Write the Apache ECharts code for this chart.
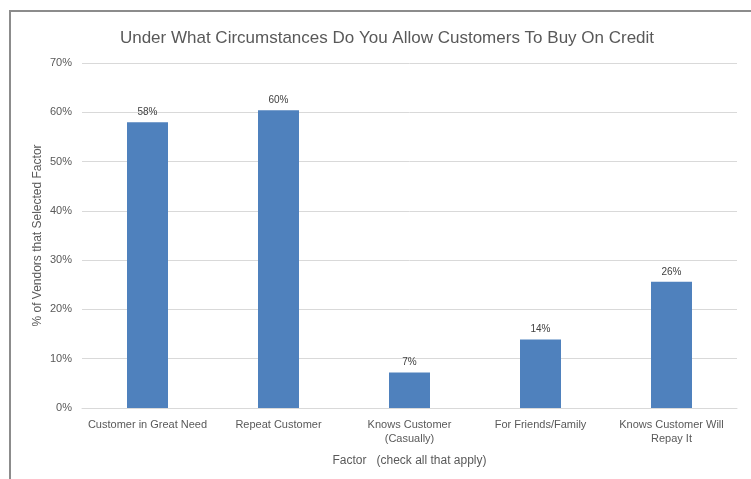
<!DOCTYPE html>
<html>
<head>
<meta charset="utf-8">
<script src="https://cdn.jsdelivr.net/npm/echarts@6/dist/echarts.min.js"></script>
<style>
  html, body { margin: 0; padding: 0; background: #fff; }
  #chart { width: 751px; height: 479px; }
</style>
</head>
<body>
<div id="chart"></div>
<script>
let categories = [
    'Customer in Great Need',
    'Repeat Customer',
    'Knows Customer\n(Casually)',
    'For Friends/Family',
    'Knows Customer Will\nRepay It'
];
let shares = [0.58, 0.604, 0.072, 0.139, 0.256];
let yTicks = [0, 0.1, 0.2, 0.3, 0.4, 0.5, 0.6, 0.7];

let font = 'Liberation Sans';
let chart = echarts.init(document.getElementById('chart'));
let option = {
    backgroundColor: '#fff',
    textStyle: { fontFamily: font },
    title: {
        text: 'Under What Circumstances Do You Allow Customers To Buy On Credit',
        left: 382,
        textAlign: 'center',
        top: 25,
        textStyle: { fontFamily: font, fontSize: 17, fontWeight: 'normal', color: '#595959' }
    },
    graphic: [
        { type: 'line', shape: { x1: 9, y1: 11, x2: 751, y2: 11 }, style: { stroke: '#8c8c8c', lineWidth: 2 } },
        { type: 'line', shape: { x1: 10, y1: 11, x2: 10, y2: 479 }, style: { stroke: '#8c8c8c', lineWidth: 2 } }
    ],
    grid: { left: 82, right: 14, top: 63, bottom: 71 },
    xAxis: {
        type: 'category',
        data: categories,
        name: 'Factor   (check all that apply)',
        nameLocation: 'middle',
        nameGap: 47,
        nameMoveOverlap: false,
        nameTextStyle: { fontSize: 12, color: '#595959' },
        axisLine: { lineStyle: { color: '#d9d9d9' } },
        axisTick: { show: false },
        axisLabel: { fontSize: 11, color: '#595959', margin: 10, lineHeight: 14, interval: 0 }
    },
    yAxis: {
        type: 'value',
        min: yTicks[0],
        max: yTicks[yTicks.length - 1],
        interval: 0.1,
        name: '% of Vendors that Selected Factor',
        nameLocation: 'middle',
        nameGap: 38,
        nameMoveOverlap: false,
        nameTextStyle: { fontSize: 12, color: '#595959' },
        axisLine: { show: false },
        axisTick: { show: false },
        splitLine: { lineStyle: { color: '#d9d9d9' } },
        axisLabel: {
            fontSize: 11,
            color: '#595959',
            margin: 10,
            formatter: function (v) { return Math.round(v * 100) + '%'; }
        }
    },
    series: [
        {
            type: 'bar',
            data: shares,
            barWidth: 41,
            itemStyle: { color: '#4f81bd' },
            label: {
                show: true,
                position: 'top',
                distance: 5,
                fontSize: 10,
                color: '#404040',
                formatter: function (p) { return Math.round(p.value * 100) + '%'; }
            }
        }
    ]
};
chart.setOption(option);
</script>
</body>
</html>
